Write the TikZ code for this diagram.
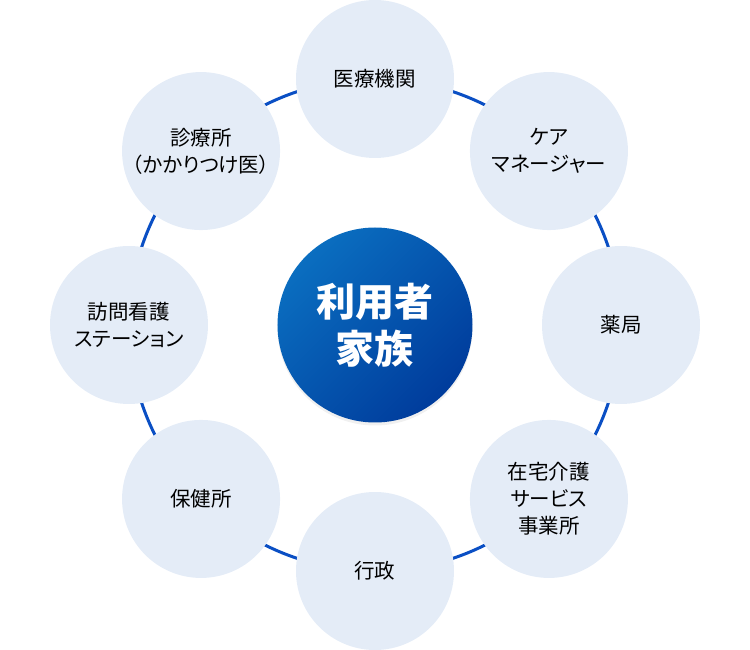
\documentclass[tikz,border=0pt]{standalone}
\usepackage{fontspec}
\setmainfont{Noto Sans CJK JP}[RawFeature=+palt]
\usetikzlibrary{shadows}
\pgfdeclarelayer{background}
\pgfsetlayers{background,main}
\definecolor{ringblue}{HTML}{0A4FC4}
\definecolor{pale}{HTML}{E4ECF7}
\definecolor{topblue}{HTML}{0A6EC0}
\definecolor{deepblue}{HTML}{003C9C}

\begin{document}
\begin{tikzpicture}[x=1pt,y=1pt,
  member/.style={circle, fill=pale, minimum size=158pt, inner sep=0pt,
    align=center, text=black, font=\fontsize{20.5}{27}\selectfont},
  user/.style={circle, minimum size=195pt, inner sep=0pt, align=center,
    text=white, font=\fontsize{39}{47}\selectfont\bfseries,
    left color=topblue, right color=deepblue, shading angle=45,
    drop shadow={opacity=0.12, shadow xshift=0pt, shadow yshift=-3pt}},
  link/.style={draw=ringblue, line width=3pt}]
\useasboundingbox (-375,-325) rectangle (375,325);

\node[user] (U) at (0,0) {利用者\\家族};

\node[member] (iryo) at (90:246) {医療機関};
\node[member] (care) at (45:246) {ケア\\マネージャー};
\node[member] (yaku) at (0:246) {薬局};
\node[member] (zaitaku) at (-45:246) {在宅介護\\サービス\\事業所};
\node[member] (gyosei) at (-90:246) {行政};
\node[member] (hoken) at (-135:246) {保健所};
\node[member] (houmon) at (180:246) {訪問看護\\ステーション};
\node[member] (shinryo) at (135:246) {診療所\\（かかりつけ医）};

% ring pieces behind the circles
\begin{pgfonlayer}{background}
\draw[link] (iryo.center) arc[start angle=90, end angle=45, radius=246];
\draw[link] (care.center) arc[start angle=45, end angle=0, radius=246];
\draw[link] (yaku.center) arc[start angle=0, end angle=-45, radius=246];
\draw[link] (zaitaku.center) arc[start angle=-45, end angle=-90, radius=246];
\draw[link] (gyosei.center) arc[start angle=-90, end angle=-135, radius=246];
\draw[link] (hoken.center) arc[start angle=-135, end angle=-180, radius=246];
\draw[link] (houmon.center) arc[start angle=180, end angle=135, radius=246];
\draw[link] (shinryo.center) arc[start angle=135, end angle=90, radius=246];
\end{pgfonlayer}
\end{tikzpicture}
\end{document}
